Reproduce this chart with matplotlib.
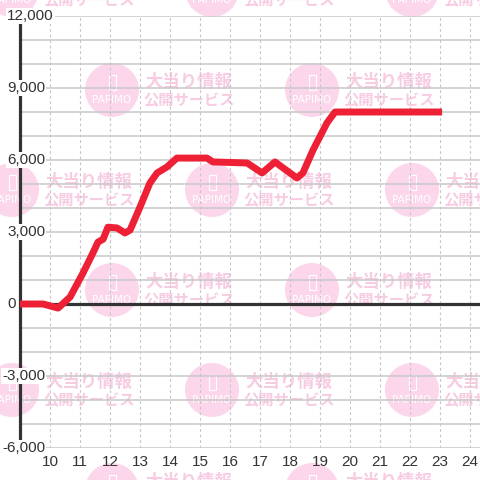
import matplotlib
matplotlib.use("Agg")
import matplotlib.pyplot as plt
from matplotlib.patches import Circle, Rectangle
import matplotlib.transforms as mtransforms

# ---- data ----
hours = [9.0, 9.77, 10.27, 10.67, 11.1, 11.43, 11.6, 11.77, 11.93, 12.23, 12.5, 12.67,
         13.0, 13.33, 13.57, 13.9, 14.23, 15.23, 15.43, 16.57, 16.77, 17.07, 17.5,
         17.77, 18.23, 18.43, 18.77, 19.23, 19.5, 23.07]
values = [0, 0, -170, 290, 1290, 2125, 2580, 2700, 3200, 3170, 2960, 3080,
          4040, 5040, 5460, 5710, 6080, 6080, 5920, 5875, 5710, 5460, 5920,
          5670, 5250, 5460, 6420, 7540, 8000, 8000]
x_ticks = list(range(10, 25))
y_ticks = [-6000, -3000, 0, 3000, 6000, 9000, 12000]
y_tick_labels = ["-6,000", "-3,000", "0", "3,000", "6,000", "9,000", "12,000"]
wm_line1 = "大当り情報"
wm_line2 = "公開サービス"
wm_logo = "PAPIMO"

W = H = 480
fig = plt.figure(figsize=(4.8, 4.8), dpi=100)
fig.patch.set_facecolor("white")

# ---- watermark background ----
bg = fig.add_axes([0, 0, 1, 1], zorder=-1)
bg.set_xlim(0, W)
bg.set_ylim(H, 0)
bg.axis("off")
pink_c = "#fcd6eb"
pink_t = "#f7cce3"
rows = [(-10, [12, 212, 412]), (90, [112, 312]), (190, [12, 212, 412]),
        (290, [112, 312]), (390, [12, 212, 412]), (490, [112, 312])]
for cy, xs in rows:
    for cx in xs:
        bg.add_patch(Circle((cx, cy), 27, color=pink_c, lw=0))
        bg.add_patch(Rectangle((cx - 3.5, cy - 15), 7, 15, fill=False, ec="white", lw=0.8))
        bg.text(cx, cy + 10, wm_logo, color="white", fontsize=7.5, ha="center",
                va="center", family="DejaVu Sans")
        bg.text(cx + 33, cy - 8, wm_line1, color=pink_t, fontsize=12.5, fontweight="bold",
                ha="left", va="center", family=["Noto Sans CJK JP", "DejaVu Sans"])
        bg.text(cx + 31, cy + 10, wm_line2, color=pink_t, fontsize=11, fontweight="bold",
                ha="left", va="center", family=["Noto Sans CJK JP", "DejaVu Sans"])

# ---- main axes ----
ax = fig.add_axes([20 / W, 32 / H, 460 / W, 432 / H])
ax.set_facecolor("none")
ax.set_xlim(9.0, 9.0 + 460 / 30)
ax.set_ylim(-6000, 12000)

for v in range(-6000, 12001, 1000):
    if v == 0:
        continue
    ax.axhline(v, color="#c8c8c8", lw=1.1, zorder=1)
for h in x_ticks:
    ax.axvline(h, color="#c6c6c6", lw=0.8, ls=(0, (2.5, 2.5)), zorder=1)
ax.axhline(0, color="#333333", lw=2.3, zorder=3)

for s in ["top", "right", "bottom"]:
    ax.spines[s].set_visible(False)
ax.spines["left"].set_color("#333333")
ax.spines["left"].set_linewidth(2.3)
ax.spines["left"].set_zorder(3)

ax.plot(hours, values, color="#ee2036", lw=5.0, solid_joinstyle="round",
        solid_capstyle="butt", zorder=4)

ax.set_xticks(x_ticks)
ax.set_xticklabels([str(h) for h in x_ticks], fontsize=11, color="#333333",
                   family="Liberation Sans")
ax.tick_params(axis="x", length=0, pad=5)
ax.set_yticks([])

trans = mtransforms.blended_transform_factory(fig.transFigure, ax.transData)
for v, lab in zip(y_ticks, y_tick_labels):
    xpix = 2 if v < 0 else 7
    ax.text(xpix / W, v, lab, transform=trans, ha="left", va="center",
            fontsize=11, color="#333333", family="Liberation Sans", zorder=6,
            bbox=dict(boxstyle="square,pad=0.08", fc="white", ec="none"))

fig.savefig("out.png", dpi=100)
